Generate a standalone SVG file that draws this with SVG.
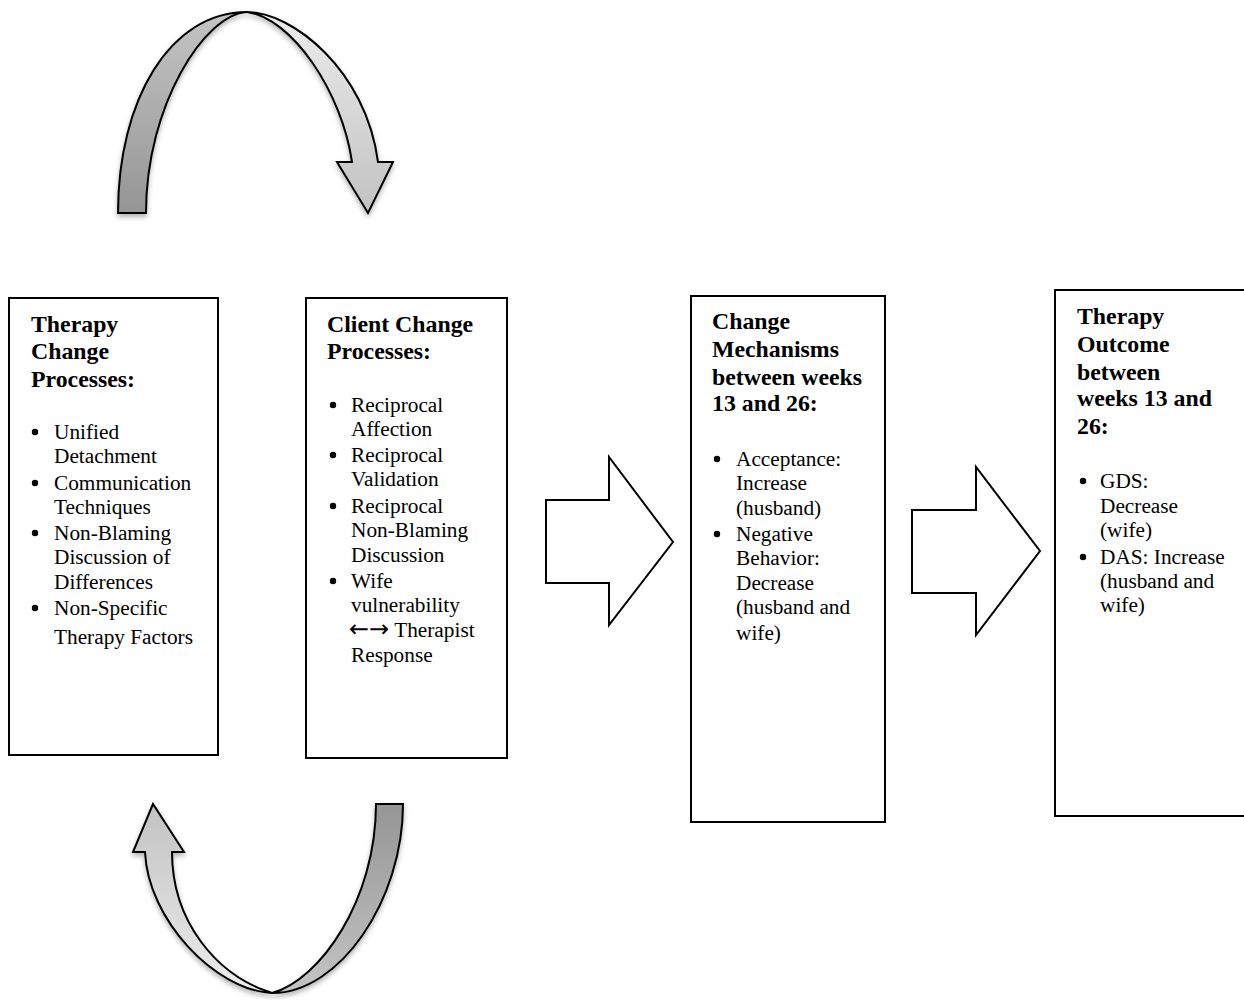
<svg xmlns="http://www.w3.org/2000/svg" width="1244" height="1000" viewBox="0 0 1244 1000">
<style>
.box{fill:#fff;stroke:#000;stroke-width:2}
.t{font-family:"Liberation Serif","Times New Roman",serif;font-weight:bold;font-size:23.8px;fill:#000}
.b{font-family:"Liberation Serif","Times New Roman",serif;font-size:21.3px;fill:#000}
.arr{font-family:"DejaVu Sans",sans-serif;font-size:24px}
.dot{fill:#000}
.blk{fill:#fff;stroke:#000;stroke-width:2;stroke-linejoin:miter}
.rib{stroke:#000;stroke-width:2;stroke-linejoin:miter}
</style>
<defs>
<linearGradient id="gDarkUp" x1="0" y1="1" x2="0" y2="0">
<stop offset="0" stop-color="#959595"/><stop offset="1" stop-color="#c4c4c4"/>
</linearGradient>
<linearGradient id="gLightDown" x1="0" y1="0" x2="0" y2="1">
<stop offset="0" stop-color="#ececec"/><stop offset="1" stop-color="#c2c2c2"/>
</linearGradient>
<linearGradient id="gDarkDown" x1="0" y1="0" x2="0" y2="1">
<stop offset="0" stop-color="#959595"/><stop offset="1" stop-color="#c4c4c4"/>
</linearGradient>
<linearGradient id="gLightUp" x1="0" y1="1" x2="0" y2="0">
<stop offset="0" stop-color="#ececec"/><stop offset="1" stop-color="#c2c2c2"/>
</linearGradient>
<filter id="sh" x="-10%" y="-10%" width="130%" height="130%">
<feDropShadow dx="0" dy="3" stdDeviation="2.5" flood-color="#000" flood-opacity="0.3"/>
</filter>
</defs>

<g id="connectors">
<g id="loop-top" filter="url(#sh)">
<path class="rib" fill="url(#gDarkUp)" d="M118,213 C118,100 170,12 247,12 C205,14 146,105 146,213 Z"/>
<path class="rib" fill="url(#gLightDown)" d="M247,12 C292,12 366,70 378,162 L393,162 L368,213 L337,162 L352,162 C342,92 292,18 247,12 Z"/>
</g>
<g id="loop-bottom" filter="url(#sh)">
<path class="rib" fill="url(#gDarkDown)" d="M376,804 L403,804 C403,900 340,993 272,993 C320,980 376,900 376,804 Z"/>
<path class="rib" fill="url(#gLightUp)" d="M272,993 C215,990 148,920 145,852 L133,852 L153,804 L184,852 L172,852 C172,920 215,975 272,993 Z"/>
</g>
<polygon id="arrow-1" class="blk" points="546,500 609,500 609,457 673,542 609,625 609,583 546,583"/>
<polygon id="arrow-2" class="blk" points="912,510 976,510 976,467 1040,551 976,635 976,593 912,593"/>
</g>

<g id="node-therapy-change">
<rect class="box" x="9" y="298" width="209" height="457"/>
<text class="t" x="31" y="332">Therapy</text>
<text class="t" x="31" y="359">Change</text>
<text class="t" x="31" y="387">Processes:</text>
<circle class="dot" cx="35" cy="432" r="3.2"/>
<circle class="dot" cx="35" cy="483" r="3.2"/>
<circle class="dot" cx="35" cy="533" r="3.2"/>
<circle class="dot" cx="35" cy="608" r="3.2"/>
<text class="b" x="54" y="439">Unified</text>
<text class="b" x="54" y="463">Detachment</text>
<text class="b" x="54" y="490">Communication</text>
<text class="b" x="54" y="514">Techniques</text>
<text class="b" x="54" y="540">Non-Blaming</text>
<text class="b" x="54" y="564">Discussion of</text>
<text class="b" x="54" y="589">Differences</text>
<text class="b" x="54" y="615">Non-Specific</text>
<text class="b" x="54" y="644">Therapy Factors</text>
</g>

<g id="node-client-change">
<rect class="box" x="306" y="298" width="201" height="460"/>
<text class="t" x="327" y="332">Client Change</text>
<text class="t" x="327" y="359">Processes:</text>
<circle class="dot" cx="333" cy="405" r="3.2"/>
<circle class="dot" cx="333" cy="455" r="3.2"/>
<circle class="dot" cx="333" cy="506" r="3.2"/>
<circle class="dot" cx="333" cy="581" r="3.2"/>
<text class="b" x="351" y="412">Reciprocal</text>
<text class="b" x="351" y="436">Affection</text>
<text class="b" x="351" y="462">Reciprocal</text>
<text class="b" x="351" y="486">Validation</text>
<text class="b" x="351" y="513">Reciprocal</text>
<text class="b" x="351" y="537">Non-Blaming</text>
<text class="b" x="351" y="562">Discussion</text>
<text class="b" x="351" y="588">Wife</text>
<text class="b" x="351" y="612">vulnerability</text>
<text class="b" x="349" y="637"><tspan class="arr">&#x2190;&#x2192;</tspan> Therapist</text>
<text class="b" x="351" y="662">Response</text>
</g>

<g id="node-change-mechanisms">
<rect class="box" x="691" y="296" width="194" height="526"/>
<text class="t" x="712" y="329">Change</text>
<text class="t" x="712" y="357">Mechanisms</text>
<text class="t" x="712" y="385">between weeks</text>
<text class="t" x="712" y="411">13 and 26:</text>
<circle class="dot" cx="717" cy="459" r="3.2"/>
<circle class="dot" cx="717" cy="534" r="3.2"/>
<text class="b" x="736" y="466">Acceptance:</text>
<text class="b" x="736" y="490">Increase</text>
<text class="b" x="736" y="515">(husband)</text>
<text class="b" x="736" y="541">Negative</text>
<text class="b" x="736" y="565">Behavior:</text>
<text class="b" x="736" y="590">Decrease</text>
<text class="b" x="736" y="614">(husband and</text>
<text class="b" x="736" y="640">wife)</text>
</g>

<g id="node-therapy-outcome">
<rect class="box" x="1055" y="290" width="210" height="526"/>
<text class="t" x="1077" y="324">Therapy</text>
<text class="t" x="1077" y="352">Outcome</text>
<text class="t" x="1077" y="380">between</text>
<text class="t" x="1077" y="406">weeks 13 and</text>
<text class="t" x="1077" y="434">26:</text>
<circle class="dot" cx="1083" cy="481" r="3.2"/>
<circle class="dot" cx="1083" cy="557" r="3.2"/>
<text class="b" x="1100" y="488">GDS:</text>
<text class="b" x="1100" y="513">Decrease</text>
<text class="b" x="1100" y="537">(wife)</text>
<text class="b" x="1100" y="564">DAS: Increase</text>
<text class="b" x="1100" y="588">(husband and</text>
<text class="b" x="1100" y="612">wife)</text>
</g>
</svg>
